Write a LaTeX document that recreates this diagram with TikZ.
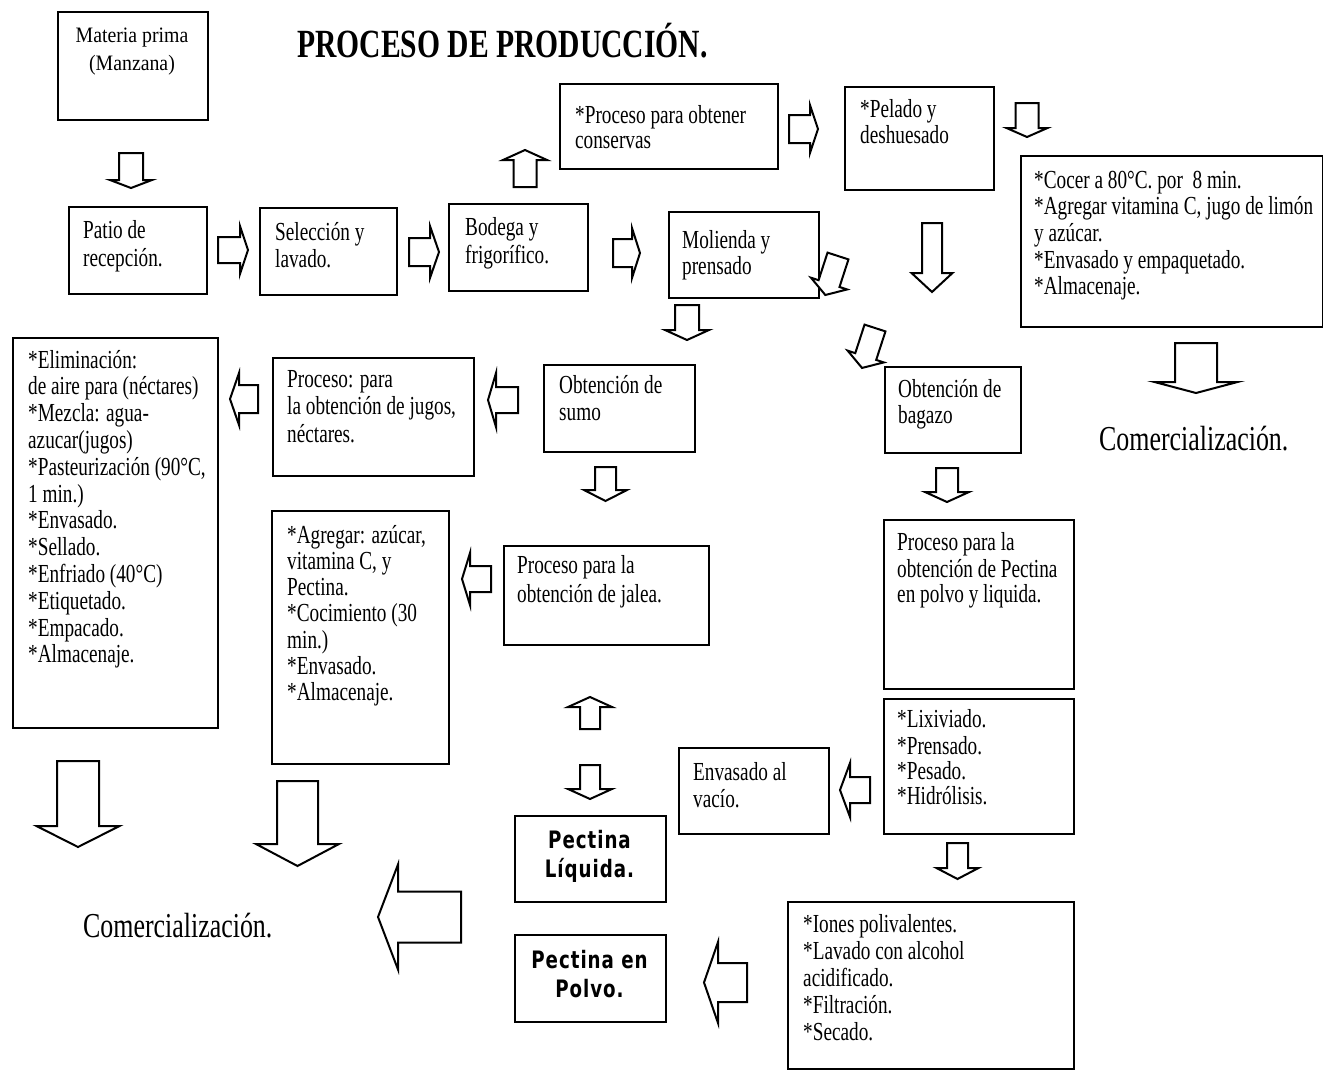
\documentclass[tikz,border=0pt]{standalone}
\usepackage{fontspec}
\setmainfont{Liberation Serif}[FakeStretch=0.74]
\newfontfamily\rawfont{Liberation Serif}[FakeStretch=0.9]
\newfontfamily\pectfont{DejaVu Sans}[FakeStretch=0.76, LetterSpace=4]

% body text size with a given line spacing
\newcommand{\bodysize}[1]{\fontsize{26}{#1}\selectfont}

\tikzset{
  box/.style={draw=black, line width=1.8pt, anchor=north west, inner sep=0pt},
  txt/.style={anchor=north west, inner sep=0pt, align=left, font={\bodysize{27}}},
  blockarr/.style={draw=black, line width=2pt, fill=white, line join=miter},
  pectbox/.style={anchor=north, inner sep=0pt, align=center,
              font={\pectfont\bfseries\fontsize{24}{29}\selectfont}},
  comm/.style={anchor=base west, inner sep=0pt, font={\fontsize{35}{40}\selectfont}}
}

% rectangle node given by its corners (x1,y1) and (x2,y2)
\newcommand{\boxnode}[5]{%
  \node[box, minimum width={(#4)-(#2)}, minimum height={(#5)-(#3)}] (#1) at (#2,#3) {};}

% block arrow: tail centre (#1,#2), direction #3, length #4,
% shaft half width #5, head half width #6, head length #7
\newcommand{\blockarrow}[7]{%
  \draw[blockarr, shift={(#1,#2)}, rotate=#3]
    (0,-#5) -- ({#4-#7},-#5) -- ({#4-#7},-#6) -- (#4,0)
    -- ({#4-#7},#6) -- ({#4-#7},#5) -- (0,#5) -- cycle;}

\begin{document}
\begin{tikzpicture}[x=1pt, y=-1pt]
\fill[white] (0,0) rectangle (1323,1071);
\useasboundingbox (0,0) rectangle (1323,1071);

% title
\node[anchor=base west, inner sep=0pt, font={\fontsize{40}{44}\selectfont\bfseries}]
  (title) at (297,57) {PROCESO DE PRODUCCIÓN.};

% boxes
\boxnode{mat}{57}{11}{207}{119}
\boxnode{pat}{68}{206}{206}{293}
\boxnode{sel}{259}{207}{396}{294}
\boxnode{bod}{448}{203}{587}{290}
\boxnode{con}{559}{83}{777}{168}
\boxnode{pel}{844}{86}{993}{189}
\boxnode{mol}{668}{211}{818}{297}
\boxnode{coc}{1020}{155}{1322}{326}
\boxnode{eli}{12}{337}{217}{727}
\boxnode{jug}{272}{357}{473}{475}
\boxnode{agr}{271}{510}{448}{763}
\boxnode{sum}{543}{364}{694}{451}
\boxnode{jal}{503}{545}{708}{644}
\boxnode{bag}{884}{366}{1020}{452}
\boxnode{ppe}{883}{519}{1073}{688}
\boxnode{lix}{883}{698}{1073}{833}
\boxnode{env}{678}{747}{828}{833}
\boxnode{liq}{514}{815}{665}{901}
\boxnode{pol}{514}{934}{665}{1021}
\boxnode{ion}{787}{901}{1073}{1068}

% box texts
\node[anchor=north, inner sep=0pt, align=center, font={\rawfont\fontsize{22}{28}\selectfont}]
  (matT) at (132,22.4) {\strut Materia prima\\(Manzana)};
\node[txt, font={\bodysize{28}}] (patT) at (83,218.4) {\strut Patio de\\recepción.};
\node[txt] (selT) at (275,221.1) {\strut Selección y\\lavado.};
\node[txt, font={\bodysize{28}}] (bodT) at (465,215.4) {\strut Bodega y\\frigorífico.};
\node[txt, font={\bodysize{25}}] (conT) at (575,105.5) {\strut *Proceso para obtener\\conservas};
\node[txt, font={\bodysize{26}}] (pelT) at (860,98.8) {\strut *Pelado y\\deshuesado};
\node[txt, font={\bodysize{26}}] (molT) at (682,229.8) {\strut Molienda y\\prensado};
\node[txt, font={\bodysize{26.7}}] (cocT) at (1034,169.3)
  {\strut *Cocer a 80°C. por\ \ 8 min.\\*Agregar vitamina C, jugo de limón\\y azúcar.\\*Envasado y empaquetado.\\*Almacenaje.};
\node[txt, font={\bodysize{26.8}}] (eliT) at (28,349.2)
  {\strut *Eliminación:\\de aire para (néctares)\\*Mezcla: agua-\\azucar(jugos)\\*Pasteurización (90°C,\\1 min.)\\*Envasado.\\*Sellado.\\*Enfriado (40°C)\\*Etiquetado.\\*Empacado.\\*Almacenaje.};
\node[txt, font={\bodysize{27.5}}] (jugT) at (287,367.75)
  {\strut Proceso: para\\la obtención de jugos,\\néctares.};
\node[txt, font={\bodysize{26.2}}] (agrT) at (287,524.7)
  {\strut *Agregar: azúcar,\\vitamina C, y\\Pectina.\\*Cocimiento (30\\min.)\\*Envasado.\\*Almacenaje.};
\node[txt] (sumT) at (559,374.1) {\strut Obtención de\\sumo};
\node[txt, font={\bodysize{29}}] (jalT) at (517,552.7) {\strut Proceso para la\\obtención de jalea.};
\node[txt, font={\bodysize{26}}] (bagT) at (898,378.8) {\strut Obtención de\\bagazo};
\node[txt, font={\bodysize{25}}] (ppeT) at (897,532.5)
  {\strut Proceso para la\\obtención de Pectina\\en polvo y liquida.};
\node[txt, font={\bodysize{25}}] (lixT) at (897,709.5)
  {\strut *Lixiviado.\\*Prensado.\\*Pesado.\\*Hidrólisis.};
\node[txt] (envT) at (693,761.1) {\strut Envasado al\\vacío.};
\node[txt] (ionT) at (803,913.1)
  {\strut *Iones polivalentes.\\*Lavado con alcohol\\acidificado.\\*Filtración.\\*Secado.};
\node[pectbox] (liqT) at (589.5,827.7) {\strut Pectina\\Líquida.};
\node[pectbox] (polT) at (589.5,947.7) {\strut Pectina en\\Polvo.};

% outlets
\node[comm] (comR) at (1099,450) {Comercialización.};
\node[comm] (comL) at (83,937) {Comercialización.};

% block arrows
\blockarrow{131}{153}{-90}{35}{12}{21}{8}
\blockarrow{218}{250}{0}{30}{13}{24}{8}
\blockarrow{409}{252}{0}{30}{14}{26}{9}
\blockarrow{525}{187}{90}{37}{11.5}{22}{10}
\blockarrow{789}{129}{0}{29}{14}{24}{8}
\blockarrow{613}{253}{0}{27}{14}{25}{8}
\blockarrow{1027}{103}{-90}{34}{11.5}{20.5}{9}
\blockarrow{932}{223}{-90}{69}{10}{20.5}{19}
\blockarrow{1196}{343}{-90}{50}{21}{41.5}{11}
\blockarrow{687}{305}{-90}{35}{12}{22}{10}
\blockarrow{838}{256}{-108}{41}{11}{19}{12}
\blockarrow{875}{328}{-108}{42}{11}{19}{12}
\blockarrow{258}{399}{180}{28}{14}{26}{9}
\blockarrow{518}{400}{180}{30}{13}{27}{8}
\blockarrow{605.5}{467}{-90}{34}{10.5}{21.5}{11}
\blockarrow{491}{579}{180}{29}{13}{26}{8}
\blockarrow{947}{468}{-90}{34}{11}{22}{10}
\blockarrow{870}{790}{180}{30}{13}{27}{10}
\blockarrow{957.5}{843}{-90}{36}{10.5}{21}{11}
\blockarrow{747}{982.5}{180}{43}{19.5}{40.5}{14}
\blockarrow{590}{729}{90}{32}{10}{22}{10}
\blockarrow{590}{765}{-90}{34}{10}{22}{10}
\blockarrow{78}{761}{-90}{86}{21}{41.5}{21}
\blockarrow{297.5}{781}{-90}{85}{20.5}{41.5}{22}
\blockarrow{461}{917}{180}{83}{25.5}{52.5}{20}
\end{tikzpicture}
\end{document}
